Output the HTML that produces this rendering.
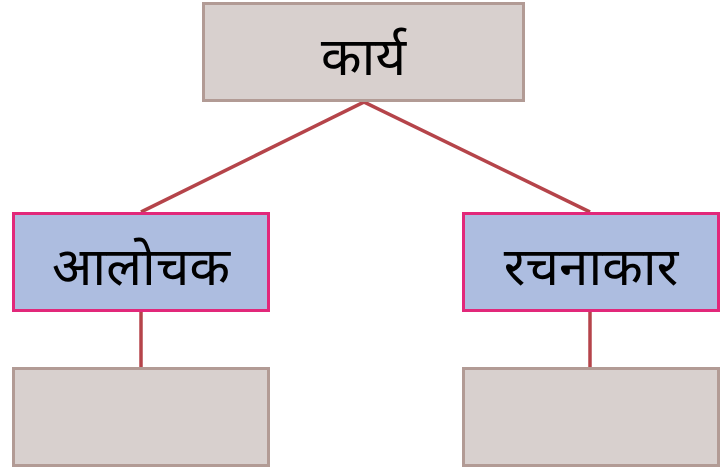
<!DOCTYPE html>
<html><head><meta charset="utf-8"><style>
body{margin:0;width:724px;height:476px;background:#fff;position:relative;overflow:hidden;font-family:"Liberation Sans","Noto Sans CJK SC",sans-serif}
.b{position:absolute;box-sizing:border-box;display:flex;align-items:center;justify-content:center;font-size:53px;color:#000;padding-top:4px}
.g{background:#d8d0ce;border:3px solid #b29b95}
.p{background:#adbde0;border:3px solid #e2287a}
</style></head><body>
<svg width="724" height="476" style="position:absolute;left:0;top:0">
<g stroke="#b5444a" stroke-width="3.5" fill="none">
<line x1="364" y1="102" x2="141" y2="212"/>
<line x1="364" y1="102" x2="590" y2="212"/>
<line x1="141" y1="312" x2="141" y2="367"/>
<line x1="590" y1="312" x2="590" y2="367"/>
</g></svg>
<div class="b g" style="left:202px;top:2px;width:323px;height:100px">कार्य</div>
<div class="b p" style="left:12px;top:212px;width:258px;height:100px">आलोचक</div>
<div class="b p" style="left:462px;top:212px;width:258px;height:100px">रचनाकार</div>
<div class="b g" style="left:12px;top:367px;width:258px;height:100px"></div>
<div class="b g" style="left:462px;top:367px;width:258px;height:100px"></div>
</body></html>
